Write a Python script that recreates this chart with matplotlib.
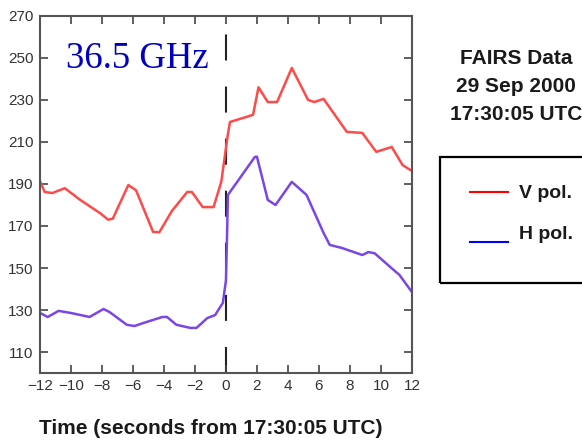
import numpy as np
import matplotlib
matplotlib.use("Agg")
import matplotlib.pyplot as plt
from matplotlib.patches import Rectangle
from matplotlib.lines import Line2D

# V pol. (red) brightness temperature vs time
t_v = [-12, -11.7, -11.2, -10.4, -9.4, -8.1, -7.6, -7.3, -6.3, -5.8, -4.7, -4.3,
       -3.5, -2.5, -2.2, -1.5, -0.8, -0.3, 0.1, 0.26, 1.75, 2.1, 2.7, 3.3, 4.25,
       5.3, 5.7, 6.3, 7.8, 8.8, 9.7, 10.7, 11.4, 12]
v_pol = [191.4, 186.2, 185.7, 188, 182.4, 176, 173, 173.5, 189.5, 187, 167.2, 167,
         177, 186.2, 186.2, 179, 179, 191, 212.4, 219.5, 222.9, 236, 229, 229, 245.2,
         230, 229, 230.5, 214.8, 214.3, 205.3, 207.6, 199, 196.2]

# H pol. (blue)
t_h = [-12, -11.5, -10.8, -10, -8.8, -7.9, -7.5, -6.4, -5.9, -5.3, -4.1, -3.8,
       -3.2, -2.3, -1.9, -1.2, -0.7, -0.2, 0, 0.06, 0.13, 1.87, 2.0, 2.7, 3.2,
       4.25, 5.2, 6.3, 6.7, 7.5, 8.8, 9.2, 9.6, 10.6, 11.2, 12]
h_pol = [128.6, 126.7, 129.6, 128.6, 126.7, 130.5, 129, 123, 122.4, 123.9, 126.7, 126.7,
         123, 121.5, 121.5, 126.2, 127.6, 133.4, 144, 162, 184.8, 202.9, 203, 182.4, 180,
         191, 184.8, 166.7, 161, 159.5, 156.2, 157.6, 157, 150.5, 146.7, 138.6]

xticks = list(range(-12, 13, 2))
yticks = list(range(110, 271, 20))

plt.rcParams['font.family'] = ['Liberation Sans', 'DejaVu Sans']

fig = plt.figure(figsize=(5.82, 4.41), dpi=100)
ax = fig.add_axes([0.0687, 0.154, 0.639, 0.81])

ax.plot(t_v, v_pol, color='#ff4a4a', lw=1.8)
ax.plot(t_h, h_pol, color='#7a46e6', lw=1.8)
ax.plot([0, 0], [100, 270], color='#222222', lw=1.5, dashes=(12.5, 12.5), zorder=1)

ax.set_xlim(-12, 12)
ax.set_ylim(100, 270)
ax.set_xticks(xticks)
ax.set_yticks(yticks)
ax.tick_params(direction='in', length=6, width=1.2, top=True, right=True,
               labelright=False, labeltop=False, colors='#444444', labelsize=11,
               labelcolor='#333333', pad=4.5)
for s in ax.spines.values():
    s.set_color('#555555')
    s.set_linewidth(1.5)

ax.text(0.07, 0.854, '36.5 GHz', transform=ax.transAxes, color='#0000c0',
        fontsize=26.5, family='Liberation Serif', va='baseline')

hdr = dict(ha='center', va='center', fontsize=15, fontweight='bold', color='#1a1a1a')
fig.text(516 / 582, 1 - 59 / 441, 'FAIRS Data', **hdr)
fig.text(516 / 582, 1 - 87 / 441, '29 Sep 2000', **hdr)
fig.text(516 / 582, 1 - 114 / 441, '17:30:05 UTC', **hdr)

fig.text(0.362, 0.029, 'Time (seconds from 17:30:05 UTC)', ha='center', va='center',
         fontsize=15, fontweight='bold', color='#1a1a1a')

# legend box drawn by hand, runs off the right edge
fig.patches.append(Rectangle((440 / 582, 1 - 283 / 441), 0.3, 126 / 441,
                             transform=fig.transFigure, fill=False, ec='black', lw=1.6))
fig.lines.append(Line2D([470 / 582, 508 / 582], [1 - 192 / 441] * 2,
                        transform=fig.transFigure, color='red', lw=1.5))
fig.lines.append(Line2D([470 / 582, 508 / 582], [1 - 242 / 441] * 2,
                        transform=fig.transFigure, color='blue', lw=1.5))
fig.text(519 / 582, 1 - 194 / 441, 'V pol.', va='center', fontsize=14, fontweight='bold', color='#1a1a1a')
fig.text(519 / 582, 1 - 235 / 441, 'H pol.', va='center', fontsize=14, fontweight='bold', color='#1a1a1a')

fig.savefig('out.png', dpi=100)
